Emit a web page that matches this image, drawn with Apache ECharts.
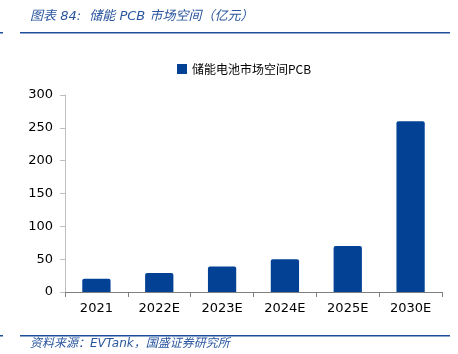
<!DOCTYPE html>
<html>
<head>
<meta charset="utf-8">
<script src="https://cdn.jsdelivr.net/npm/echarts@6/dist/echarts.min.js"></script>
<style>
  html, body { margin: 0; padding: 0; background: #fff; }
  #chart { width: 458px; height: 354px; }
</style>
</head>
<body>
<div id="chart"></div>
<script>
var categories = ['2021', '2022E', '2023E', '2024E', '2025E', '2030E'];
var marketValues = [20, 29, 39, 50, 70, 260];
var seriesName = '储能电池市场空间PCB';
var yTicks = { min: 0, max: 300, interval: 50 };

var myChart = echarts.init(document.getElementById('chart'));
var option = {
  animation: false,
  graphic: [
    { type: 'text', left: 30, top: 10, style: { text: '图表 84:  储能 PCB 市场空间（亿元）', fill: '#2a569f', font: 'italic 13px "DejaVu Sans", "Noto Sans CJK SC"' } },
    { type: 'rect', shape: { x: 0, y: 32, width: 3, height: 1.5 }, style: { fill: '#1f4e9a' } },
    { type: 'rect', shape: { x: 20, y: 32, width: 430, height: 1.5 }, style: { fill: '#1f4e9a' } },
    { type: 'rect', shape: { x: 0, y: 335, width: 3, height: 1.5 }, style: { fill: '#1f4e9a' } },
    { type: 'rect', shape: { x: 20, y: 335, width: 430, height: 1.5 }, style: { fill: '#1f4e9a' } },
    { type: 'text', left: 30, top: 338, style: { text: '资料来源：EVTank，国盛证券研究所', fill: '#2a569f', font: 'italic 12px "DejaVu Sans", "Noto Sans CJK SC"' } }
  ],
  legend: {
    top: 58,
    left: 172,
    itemWidth: 10,
    itemHeight: 10,
    itemGap: 4,
    icon: 'rect',
    textStyle: { fontFamily: '"Noto Sans CJK SC"', fontSize: 12, color: '#000' },
    data: [seriesName]
  },
  grid: { left: 65, right: 16, top: 95, bottom: 62, containLabel: false },
  xAxis: {
    type: 'category',
    data: categories,
    axisLine: { lineStyle: { color: '#7f7f7f' } },
    axisTick: { show: true, alignWithLabel: false, lineStyle: { color: '#7f7f7f' } },
    axisLabel: { color: '#000', fontSize: 13, fontFamily: 'DejaVu Sans', margin: 10 }
  },
  yAxis: {
    type: 'value',
    min: yTicks.min,
    max: yTicks.max,
    interval: yTicks.interval,
    axisLine: { show: true, lineStyle: { color: '#bfbfbf' } },
    axisTick: { show: true, lineStyle: { color: '#bfbfbf' } },
    splitLine: { show: false },
    axisLabel: { color: '#000', fontSize: 13, fontFamily: 'DejaVu Sans', margin: 12 }
  },
  series: [{
    name: seriesName,
    type: 'bar',
    data: marketValues,
    barWidth: '45%',
    itemStyle: { color: '#024194', borderRadius: [2, 2, 0, 0] }
  }]
};
myChart.setOption(option);
</script>
</body>
</html>
